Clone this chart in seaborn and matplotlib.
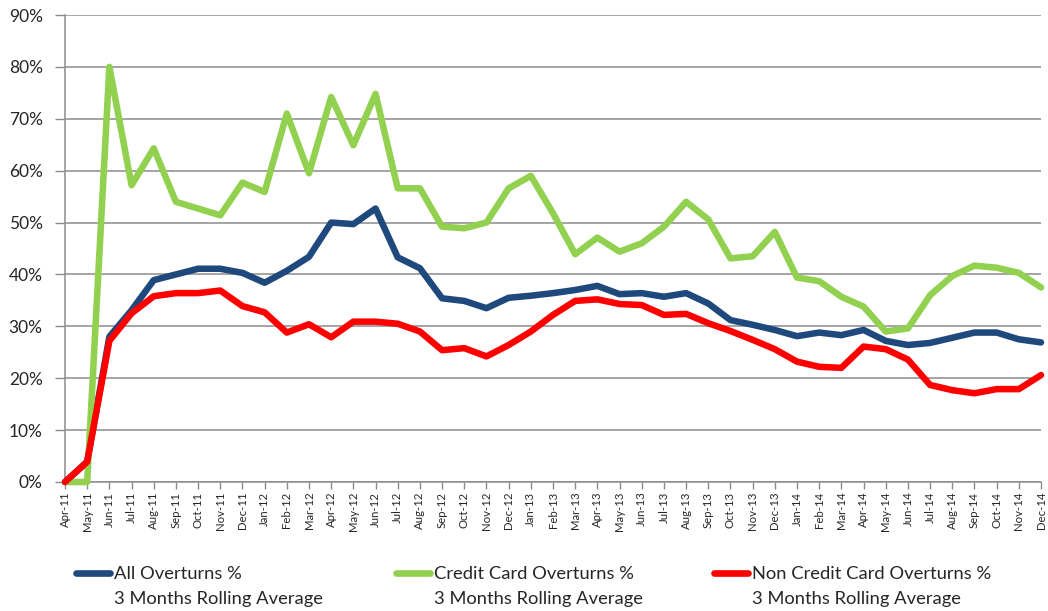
import matplotlib
matplotlib.use("Agg")
import matplotlib.pyplot as plt
import seaborn as sns
import pandas as pd
from matplotlib.lines import Line2D

months = ["Apr-11", "May-11", "Jun-11", "Jul-11", "Aug-11", "Sep-11", "Oct-11", "Nov-11", "Dec-11",
          "Jan-12", "Feb-12", "Mar-12", "Apr-12", "May-12", "Jun-12", "Jul-12", "Aug-12", "Sep-12",
          "Oct-12", "Nov-12", "Dec-12", "Jan-13", "Feb-13", "Mar-13", "Apr-13", "May-13", "Jun-13",
          "Jul-13", "Aug-13", "Sep-13", "Oct-13", "Nov-13", "Dec-13", "Jan-14", "Feb-14", "Mar-14",
          "Apr-14", "May-14", "Jun-14", "Jul-14", "Aug-14", "Sep-14", "Oct-14", "Nov-14", "Dec-14"]

all_overturns = [0.0, 3.9, 28.0, 33.1, 38.9, 40.0, 41.1, 41.1, 40.3, 38.4, 40.7, 43.4, 50.0, 49.7, 52.7,
                 43.3, 41.2, 35.4, 34.9, 33.5, 35.5, 35.9, 36.4, 37.0, 37.8, 36.2, 36.4, 35.7, 36.4,
                 34.4, 31.2, 30.3, 29.3, 28.1, 28.8, 28.3, 29.3, 27.2, 26.4, 26.8, 27.8, 28.8, 28.8,
                 27.5, 26.9]
credit_card = [0.0, 0.0, 80.0, 57.2, 64.3, 54.0, 52.7, 51.4, 57.7, 55.9, 71.0, 59.5, 74.2, 64.9, 74.8,
               56.6, 56.6, 49.2, 48.9, 50.0, 56.6, 59.0, 51.8, 43.9, 47.1, 44.4, 46.0, 49.2, 54.0,
               50.6, 43.1, 43.5, 48.2, 39.4, 38.7, 35.7, 33.8, 29.0, 29.6, 36.0, 39.7, 41.7, 41.3,
               40.3, 37.5]
non_credit_card = [0.0, 3.9, 27.2, 32.5, 35.8, 36.4, 36.4, 36.9, 33.9, 32.7, 28.8, 30.4, 27.9, 30.9,
                   30.9, 30.5, 29.0, 25.4, 25.8, 24.2, 26.4, 29.0, 32.2, 34.9, 35.2, 34.3, 34.1, 32.2,
                   32.4, 30.6, 29.1, 27.4, 25.6, 23.2, 22.2, 22.0, 26.1, 25.6, 23.6, 18.7, 17.7, 17.1,
                   17.9, 17.9, 20.6]

series_names = ["All Overturns %", "Credit Card Overturns %", "Non Credit Card Overturns %"]
series_values = [all_overturns, credit_card, non_credit_card]
colors = ["#1F497D", "#92D050", "#FF0000"]
subtitle = "3 Months Rolling Average"
y_ticks = [0, 10, 20, 30, 40, 50, 60, 70, 80, 90]

rows = []
for name, vals in zip(series_names, series_values):
    for i, v in enumerate(vals):
        rows.append({"idx": i, "value": v, "series": name})
df = pd.DataFrame(rows)

sns.set_style("white")
plt.rcParams["font.family"] = ["Lato", "DejaVu Sans"]

W, H = 1048, 611
fig = plt.figure(figsize=(W / 100, H / 100), dpi=100)
ax = fig.add_axes([65 / W, 1 - 482 / H, (1041 - 65) / W, (482 - 15) / H])

sns.lineplot(data=df, x="idx", y="value", hue="series", hue_order=series_names,
             palette=dict(zip(series_names, colors)), linewidth=4.7, estimator=None,
             sort=False, legend=False, ax=ax)
for ln in ax.lines:
    ln.set_clip_on(False)
    ln.set_solid_joinstyle("round")
    ln.set_zorder(3)

grid_c = "#8C8C8C"
ax.set_xlim(0, len(months) - 1)
ax.set_ylim(0, 90)
ax.set_yticks(y_ticks)
ax.set_yticklabels([f"{v}%" for v in y_ticks])
ax.set_xticks(range(len(months)))
ax.set_xticklabels(months, rotation=90)
ax.set_xlabel("")
ax.set_ylabel("")
ax.yaxis.grid(True, color=grid_c, linewidth=1.1)
ax.xaxis.grid(False)
ax.set_axisbelow(True)
for s in ["top", "right"]:
    ax.spines[s].set_visible(False)
for s in ["left", "bottom"]:
    ax.spines[s].set_visible(True)
    ax.spines[s].set_color(grid_c)
    ax.spines[s].set_linewidth(1.1)
ax.tick_params(axis="x", direction="out", length=5, width=1, color=grid_c,
               labelsize=8.2, pad=2, bottom=True)
ax.tick_params(axis="y", direction="out", length=7, width=1, color=grid_c,
               labelsize=12.5, pad=9, left=True)

legend_x = [76, 396, 714]
fs_leg = 13.2
legends = []
for name, c, xp in zip(series_names, colors, legend_x):
    h = Line2D([], [], color=c, linewidth=4.8, solid_capstyle="round")
    leg = fig.legend(handles=[h], labels=[name], loc="center left",
                     bbox_to_anchor=(xp / W, 1 - 574 / H), frameon=False, fontsize=fs_leg,
                     handlelength=1.85, handletextpad=0.2, borderpad=0, borderaxespad=0)
    legends.append(leg)

fig.canvas.draw()
for leg in legends:
    t = leg.get_texts()[0]
    bb = t.get_window_extent()
    fig.text(bb.x0 / W, 1 - 604 / H, subtitle, fontsize=fs_leg, ha="left", va="baseline")

fig.savefig("out.png", dpi=100)
